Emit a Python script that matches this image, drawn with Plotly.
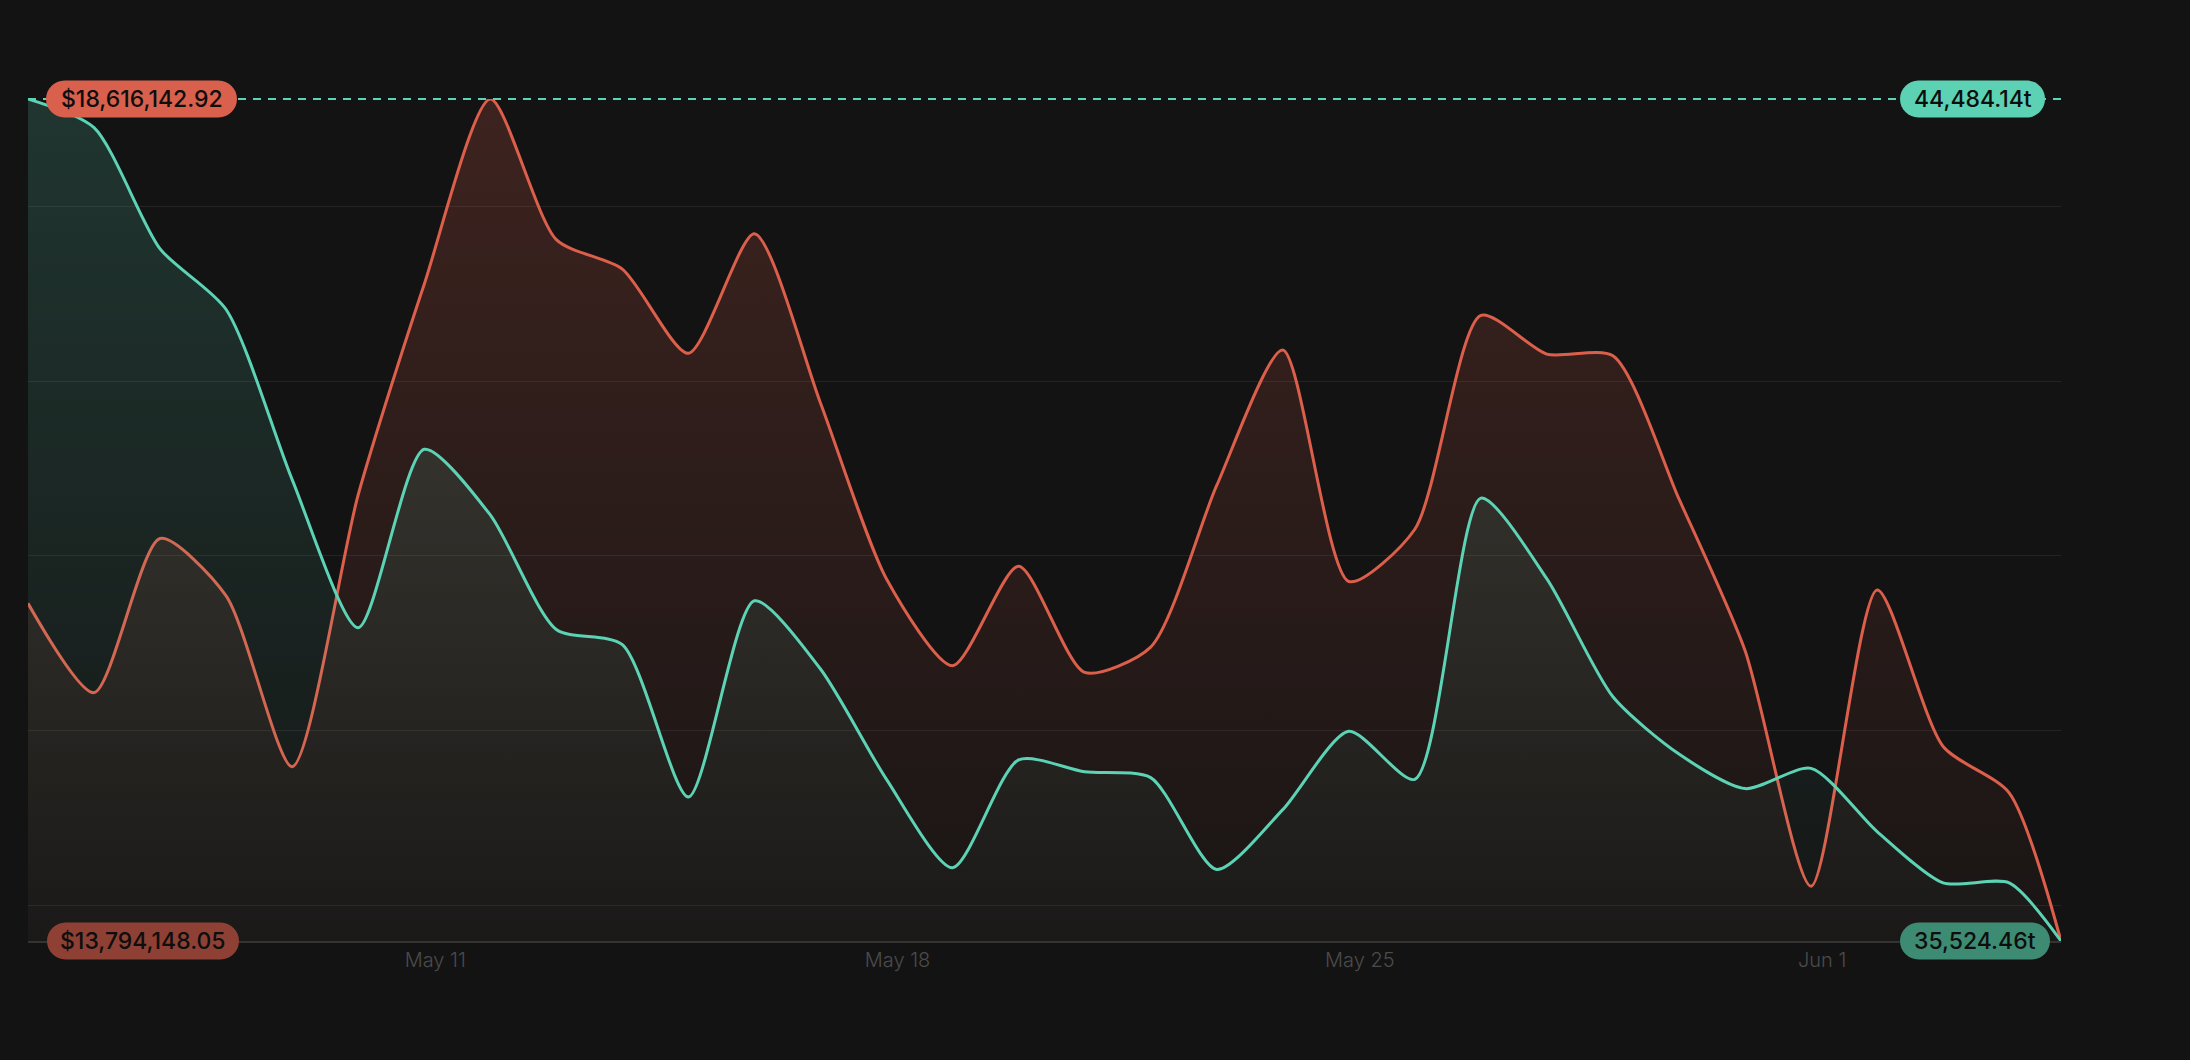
import plotly.graph_objects as go

# daily snapshots (last one is the live, partial-day point)
dates = [
    "2025-05-04 20:00", "2025-05-05 20:00", "2025-05-06 20:00", "2025-05-07 20:00",
    "2025-05-08 20:00", "2025-05-09 20:00", "2025-05-10 20:00", "2025-05-11 20:00",
    "2025-05-12 20:00", "2025-05-13 20:00", "2025-05-14 20:00", "2025-05-15 20:00",
    "2025-05-16 20:00", "2025-05-17 20:00", "2025-05-18 20:00", "2025-05-19 20:00",
    "2025-05-20 20:00", "2025-05-21 20:00", "2025-05-22 20:00", "2025-05-23 20:00",
    "2025-05-24 20:00", "2025-05-25 20:00", "2025-05-26 20:00", "2025-05-27 20:00",
    "2025-05-28 20:00", "2025-05-29 20:00", "2025-05-30 20:00", "2025-05-31 20:00",
    "2025-06-01 20:00", "2025-06-02 20:00", "2025-06-03 20:00", "2025-06-04 14:50",
]

value_usd = [
    15727768, 15216636, 16099062, 15771166, 14792301, 16349805, 17555304, 18616142.92,
    17810870, 17642100, 17159900, 17844624, 16875403, 15867606, 15370940, 15939936,
    15332364, 15477024, 16402847, 17179188, 15853140, 16152103, 17376890, 17155078,
    17145434, 16325695, 15457736, 14107578, 15804920, 14908029, 14642819, 13794148.05,
]

tonnes = [
    44484.14, 44179.5, 42889.4, 42244.2, 40434.4, 38857.5, 40756.9, 40058.1,
    38839.6, 38678.3, 37056.6, 39144.2, 38418.5, 37244.7, 36304.0, 37450.8,
    37325.4, 37262.7, 36286.1, 36922.2, 37755.5, 37244.7, 40237.3, 39377.2,
    38122.8, 37513.5, 37146.2, 37361.2, 36689.3, 36142.7, 36142.7, 35524.46,
]

tick_dates = ["2025-05-11", "2025-05-18", "2025-05-25", "2025-06-01"]
tick_text = ["May 11", "May 18", "May 25", "Jun 1"]
grid_usd = [14e6, 15e6, 16e6, 17e6, 18e6]

RED = "#dc5f4b"
TEAL = "#5dd3b5"
BG = "#131313"

usd_min, usd_max = min(value_usd), max(value_usd)
t_min, t_max = min(tonnes), max(tonnes)

fig = go.Figure()

fig.add_trace(go.Scatter(
    x=dates, y=value_usd, mode="lines", yaxis="y",
    line=dict(color=RED, width=3, shape="spline", smoothing=0.7),
    fill="tozeroy",
    fillgradient=dict(type="vertical", start=usd_min, stop=usd_max,
                      colorscale=[[0, "rgba(220,95,75,0.03)"], [1, "rgba(220,95,75,0.21)"]]),
    hoverinfo="skip", showlegend=False,
))
fig.add_trace(go.Scatter(
    x=dates, y=tonnes, mode="lines", yaxis="y2",
    line=dict(color=TEAL, width=3, shape="spline", smoothing=0.7),
    fill="tozeroy",
    fillgradient=dict(type="vertical", start=t_min, stop=t_max,
                      colorscale=[[0, "rgba(93,211,181,0.02)"], [1, "rgba(93,211,181,0.18)"]]),
    hoverinfo="skip", showlegend=False,
))


def pill(x0, x1, yref_pos, color):
    h = 18.5
    r = 18.5
    k = 0.5523 * r
    path = (f"M{x0 + r},{-h} L{x1 - r},{-h} "
            f"C{x1 - r + k},{-h} {x1},{-k} {x1},0 "
            f"C{x1},{k} {x1 - r + k},{h} {x1 - r},{h} "
            f"L{x0 + r},{h} "
            f"C{x0 + r - k},{h} {x0},{k} {x0},0 "
            f"C{x0},{-k} {x0 + r - k},{-h} {x0 + r},{-h} Z")
    return dict(type="path", xref="paper", yref="paper", xsizemode="pixel", ysizemode="pixel",
                xanchor=0, yanchor=yref_pos, path=path, fillcolor=color,
                line=dict(width=0), layer="above")


shapes = [
    dict(type="line", xref="paper", yref="paper", x0=0, x1=1, y0=1, y1=1,
         line=dict(color=TEAL, width=2, dash="8px,7px"), layer="above"),
    pill(18, 209, 1, "#d9604c"),
    pill(1872, 2017, 1, "#5cd1b4"),
    pill(19, 211, 0, "#8e4034"),
    pill(1872, 2022, 0, "#3e8b74"),
]

label_font = dict(family="Inter", size=23, color="#0e0e0e", weight=500)
annotations = [
    dict(text="$18,616,142.92", xref="paper", yref="paper", x=0, y=1, xshift=113.5,
         showarrow=False, xanchor="center", yanchor="middle", font=label_font),
    dict(text="44,484.14t", xref="paper", yref="paper", x=0, y=1, xshift=1944.5,
         showarrow=False, xanchor="center", yanchor="middle", font=label_font),
    dict(text="$13,794,148.05", xref="paper", yref="paper", x=0, y=0, xshift=115,
         showarrow=False, xanchor="center", yanchor="middle", font=label_font),
    dict(text="35,524.46t", xref="paper", yref="paper", x=0, y=0, xshift=1947,
         showarrow=False, xanchor="center", yanchor="middle", font=label_font),
]

fig.update_layout(
    width=2190, height=1060, autosize=False,
    margin=dict(l=28, r=129, t=99, b=119),
    paper_bgcolor=BG, plot_bgcolor=BG,
    font=dict(family="Inter"),
    xaxis=dict(
        type="date", range=[dates[0], dates[-1]],
        tickvals=tick_dates, ticktext=tick_text,
        tickfont=dict(family="Inter", size=20, color="#4b4b4b", weight=300),
        showgrid=False, zeroline=False, ticks="",
        showline=True, linecolor="#333333", linewidth=2,
    ),
    yaxis=dict(
        range=[usd_min, usd_max], tickvals=grid_usd, showticklabels=False,
        showgrid=True, gridcolor="#242424", gridwidth=1, zeroline=False, showline=False,
    ),
    yaxis2=dict(
        range=[t_min, t_max], overlaying="y", visible=False, showgrid=False, zeroline=False,
    ),
    shapes=shapes,
    annotations=annotations,
    hovermode=False,
)

fig.write_html("out.html", config={"displayModeBar": False},
               post_script="document.body.style.margin='0';")
